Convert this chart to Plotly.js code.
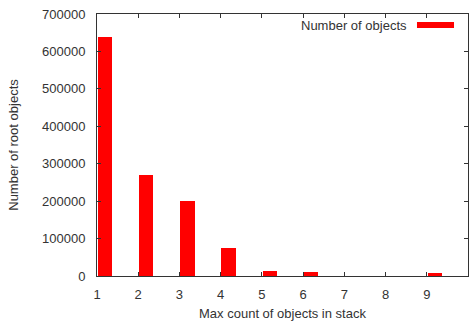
<!DOCTYPE html>
<html>
<head>
<meta charset="utf-8">
<script src="https://cdn.plot.ly/plotly-3.0.1.min.js"></script>
<style>
  html, body { margin: 0; padding: 0; background: #fff; }
  #chart { width: 469px; height: 321px; }
</style>
</head>
<body>
<div id="chart"></div>
<script>
// Data
const maxCounts = [1, 2, 3, 4, 5, 6, 7, 8, 9];
const rootObjects = [639000, 270000, 201000, 74000, 14000, 10000, 0, 0, 7000];
const seriesName = "Number of objects";
const xTickValues = [1, 2, 3, 4, 5, 6, 7, 8, 9, 10];
const xTickLabels = ["1", "2", "3", "4", "5", "6", "7", "8", "9", ""];
const yTickValues = [0, 100000, 200000, 300000, 400000, 500000, 600000, 700000];
const yTickLabels = ["0", "100000", "200000", "300000", "400000", "500000", "600000", "700000"];

const FONT = "Liberation Sans, Arial, sans-serif";
const TXT = "#333333";

const trace = {
  type: "bar",
  x: maxCounts,
  y: rootObjects,
  name: seriesName,
  offset: 0.02,
  width: 0.35,
  marker: { color: "#ff0000", line: { width: 0 } },
  showlegend: false,
  hoverinfo: "x+y"
};

const layout = {
  width: 469,
  height: 321,
  margin: { l: 97, r: 1, t: 14, b: 45, pad: 0 },
  paper_bgcolor: "#ffffff",
  plot_bgcolor: "#ffffff",
  font: { family: FONT, size: 13, color: TXT },
  bargap: 0,
  xaxis: {
    range: [1, 10],
    tickmode: "array",
    tickvals: xTickValues,
    ticktext: xTickLabels,
    ticks: "inside",
    ticklen: 4,
    tickwidth: 1,
    tickcolor: "#333333",
    showline: true,
    linecolor: "#333333",
    linewidth: 1,
    mirror: "ticks",
    showgrid: false,
    zeroline: false,
    ticklabelstandoff: 6,
    tickfont: { family: FONT, size: 13, color: TXT },
    title: { text: "Max count of objects in stack", font: { family: FONT, size: 13, color: TXT }, standoff: 8 },
    automargin: false,
    fixedrange: true
  },
  yaxis: {
    range: [0, 700000],
    tickmode: "array",
    tickvals: yTickValues,
    ticktext: yTickLabels,
    ticks: "inside",
    ticklen: 4,
    tickwidth: 1,
    tickcolor: "#333333",
    showline: true,
    linecolor: "#333333",
    linewidth: 1,
    mirror: "ticks",
    showgrid: false,
    zeroline: false,
    ticklabelstandoff: 8,
    tickfont: { family: FONT, size: 13, color: TXT },
    title: { text: "Number of root objects", font: { family: FONT, size: 13, color: TXT }, standoff: 20 },
    automargin: false,
    fixedrange: true
  },
  annotations: [
    {
      xref: "paper", yref: "paper",
      x: 0.841, y: 0.958,
      xanchor: "right", yanchor: "middle",
      text: seriesName,
      showarrow: false,
      font: { family: FONT, size: 13, color: TXT }
    }
  ],
  shapes: [
    {
      type: "rect", xref: "paper", yref: "paper",
      x0: 0.8625, x1: 0.9623, y0: 0.9466, y1: 0.9695,
      fillcolor: "#ff0000", line: { width: 0 }
    }
  ]
};

Plotly.newPlot("chart", [trace], layout, { displayModeBar: false, staticPlot: true });
</script>
</body>
</html>
